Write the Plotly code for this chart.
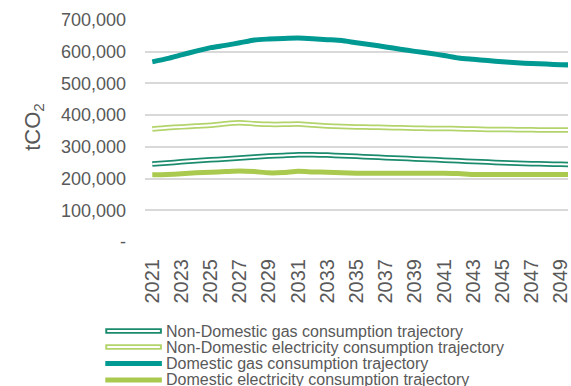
import plotly.graph_objects as go

# Projected emissions by consumption type, tCO2 per year
years = list(range(2021, 2051))

non_domestic_gas = [246, 249, 253, 256, 259, 262, 265, 268, 271, 273,
                    275, 275, 274, 272, 270, 268, 266, 264, 262, 260,
                    258, 256, 254, 252, 250, 248, 247, 246, 245, 244]
non_domestic_elec = [356, 360, 363, 366, 368, 373, 376, 373, 371, 371,
                     372, 369, 366, 364, 363, 362, 361, 360, 359, 358,
                     358, 357, 356, 355, 355, 354, 354, 353, 353, 353]
domestic_gas = [568, 578, 590, 602, 613, 620, 628, 637, 640, 642,
                643, 641, 638, 635, 628, 622, 615, 608, 601, 595,
                588, 580, 576, 572, 568, 565, 563, 561, 559, 558]
domestic_elec = [212, 213, 215, 218, 220, 222, 224, 222, 218, 219,
                 223, 221, 220, 218, 217, 217, 217, 217, 217, 217,
                 217, 216, 213, 213, 213, 213, 213, 213, 213, 213]

series_names = [
    "Non-Domestic gas consumption trajectory",
    "Non-Domestic electricity consumption trajectory",
    "Domestic gas consumption trajectory",
    "Domestic electricity consumption trajectory",
]
series_values = [non_domestic_gas, non_domestic_elec, domestic_gas, domestic_elec]
series_colors = ["#1B8B6D", "#B3D36B", "#009A93", "#A9CA4F"]
series_outlined = [True, True, False, False]

y_tick_vals = [0, 100000, 200000, 300000, 400000, 500000, 600000, 700000]
y_tick_text = ["-", "100,000", "200,000", "300,000", "400,000", "500,000", "600,000", "700,000"]
x_tick_vals = list(range(2021, 2050, 2))

W, H = 571, 386
ML, MR, MT, MB = 145, 0, 20, 144
PW, PH = W - ML - MR, H - MT - MB

FONT = "Liberation Sans, Arial, sans-serif"
GREY = "#595959"

fig = go.Figure()

for name, vals, color, outlined in zip(series_names, series_values, series_colors, series_outlined):
    ys = [v * 1000 for v in vals]
    fig.add_trace(go.Scatter(
        x=years, y=ys, mode="lines", name=name, showlegend=False,
        line=dict(color=color, width=5.5 if outlined else 5, shape="spline", smoothing=0.6),
        hoverinfo="skip",
    ))
    if outlined:
        # white core gives the hollow double-line look
        fig.add_trace(go.Scatter(
            x=years, y=ys, mode="lines", showlegend=False,
            line=dict(color="white", width=2, shape="spline", smoothing=0.6),
            hoverinfo="skip",
        ))


def px_x(p):
    return (p - ML) / PW


def px_y(p):
    return (H - MB - p) / PH


# hand-placed legend below the chart
legend_rows = [331, 347, 363.5, 380]
shapes = []
annotations = []
for row, name, color, outlined in zip(legend_rows, series_names, series_colors, series_outlined):
    shapes.append(dict(type="line", xref="paper", yref="paper",
                       x0=px_x(105), x1=px_x(162), y0=px_y(row), y1=px_y(row),
                       line=dict(color=color, width=5.5 if outlined else 5)))
    if outlined:
        shapes.append(dict(type="line", xref="paper", yref="paper",
                           x0=px_x(107), x1=px_x(160), y0=px_y(row), y1=px_y(row),
                           line=dict(color="white", width=2)))
    annotations.append(dict(text=name, xref="paper", yref="paper",
                            x=px_x(164), y=px_y(row), xanchor="left", yanchor="middle",
                            showarrow=False, font=dict(family=FONT, size=16, color=GREY)))

annotations.append(dict(text="tCO<sub>2</sub>", xref="paper", yref="paper",
                        x=px_x(33), y=px_y(127), xanchor="center", yanchor="middle",
                        textangle=-90, showarrow=False,
                        font=dict(family=FONT, size=22, color=GREY)))

fig.update_layout(
    width=W, height=H,
    margin=dict(l=ML, r=MR, t=MT, b=MB, pad=0),
    paper_bgcolor="white", plot_bgcolor="white",
    showlegend=False,
    shapes=shapes, annotations=annotations,
    font=dict(family=FONT, color=GREY),
)

fig.update_xaxes(
    range=[2020.5, 2049.5],
    tickvals=x_tick_vals, ticktext=[str(v) for v in x_tick_vals],
    tickangle=-90, tickfont=dict(family=FONT, size=20, color=GREY),
    showgrid=False, zeroline=False, showline=False, ticks="",
    ticklabelstandoff=12, ticklabeloverflow="allow",
)
fig.update_yaxes(
    range=[0, 700000],
    tickvals=y_tick_vals, ticktext=y_tick_text,
    tickfont=dict(family=FONT, size=18, color=GREY),
    showgrid=True, gridcolor="#D9D9D9", gridwidth=1.5,
    zeroline=False, showline=False, ticks="",
    ticklabelstandoff=18,
)

fig.write_html("out.html", config={"displayModeBar": False})
